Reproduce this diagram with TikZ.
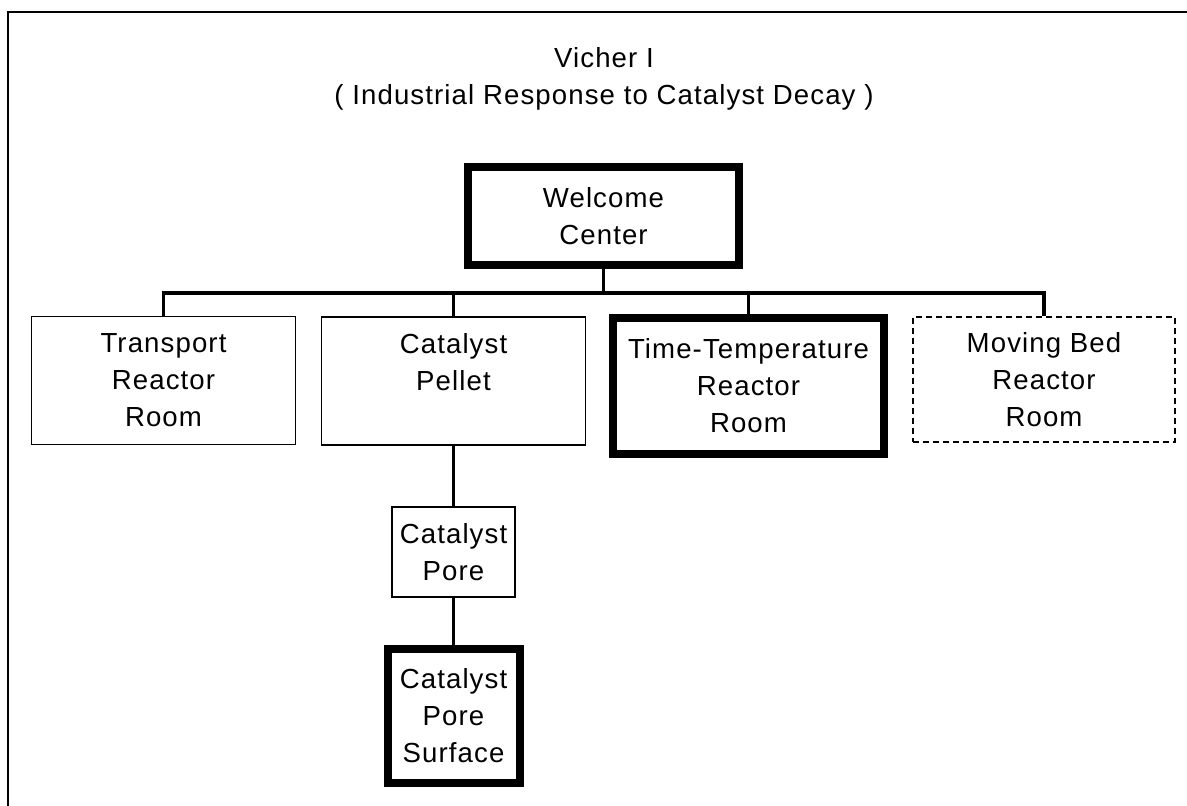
\documentclass[tikz,border=0pt]{standalone}
\usepackage{fontspec}
\setmainfont{Liberation Sans}[LetterSpace=4.0]
\begin{document}
\begin{tikzpicture}[x=0.5pt, y=-0.5pt,
    box/.style={draw, inner sep=0pt, align=center, font=\fontsize{13.8}{18.5}\selectfont},
    plainbox/.style={box, line width=0.8pt},
    heavybox/.style={box, line width=4pt},
    dashbox/.style={box, line width=1pt, dash pattern=on 3pt off 2pt},
    link/.style={line width=1.6pt}]
  \useasboundingbox (0,0) rectangle (1187,806);
  % Frame
  \draw[line width=1.1pt] (1187,12) -- (8,12) -- (8,806);

  % Title
  \node[align=center, font=\fontsize{13.8}{18.5}\selectfont] (title) at (604,79)
    {Vicher I\\( Industrial Response to Catalyst Decay )};

  % Rooms
  \node[heavybox, minimum width=135.5pt, minimum height=49pt] (welcome) at (603.5,216) {Welcome\\Center};
  \node[plainbox, minimum width=132pt, minimum height=64pt] (transport) at (163.5,380.5) {Transport\\Reactor\\Room};
  \node[plainbox, minimum width=132pt, minimum height=64pt] (pellet) at (453.5,381) {Catalyst\\Pellet\\\phantom{Room}};
  \node[heavybox, minimum width=135.5pt, minimum height=68pt] (timetemp) at (748.5,386) {Time-Temperature\\Reactor\\Room};
  \node[dashbox, minimum width=131pt, minimum height=62.5pt] (moving) at (1044,379.5) {Moving Bed\\Reactor\\Room};
  \node[plainbox, minimum width=61.75pt, minimum height=45.25pt] (pore) at (453.5,552) {Catalyst\\Pore};
  \node[heavybox, minimum width=66pt, minimum height=67pt] (surface) at (453.5,716) {Catalyst\\Pore\\Surface};

  % Connectors
  \coordinate (bus) at (603.5,293);
  \draw[link] (welcome.south) -- (bus);
  \draw[link] (transport.north) |- (bus) -| (moving.north);
  \draw[link] (pellet.north) -- (pellet.north |- bus);
  \draw[link] (timetemp.north) -- (timetemp.north |- bus);
  \draw[link] (pellet.south) -- (pore.north);
  \draw[link] (pore.south) -- (surface.north);
\end{tikzpicture}
\end{document}
